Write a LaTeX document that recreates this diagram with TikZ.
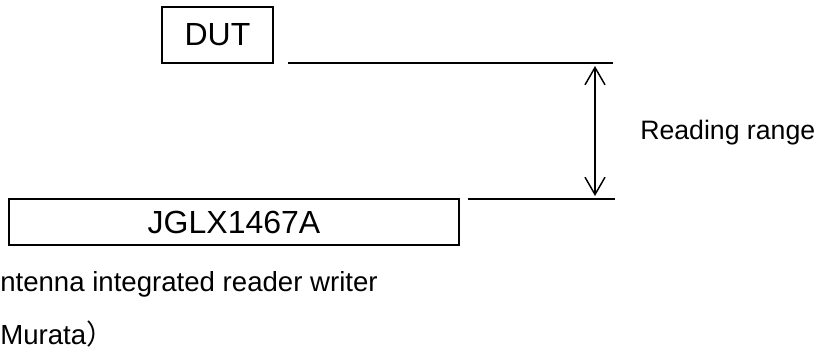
\documentclass[tikz,border=0pt]{standalone}
\usepackage{fontspec}
\setmainfont{Liberation Sans}
\newfontfamily\jpfont{Noto Sans CJK JP}
\usepackage{tikz}
\usetikzlibrary{arrows.meta}
\tikzset{>/.tip={Straight Barb[length=13pt,width=15pt,line width=1.1pt]}}

\begin{document}
\begin{tikzpicture}[x=0.75pt,y=-0.75pt,
  box/.style={draw,line width=1.4pt,inner sep=0pt},
  lbl/.style={inner sep=0pt,anchor=base west}]
\useasboundingbox (0,0) rectangle (817,351);

\node[box,minimum width=83pt,minimum height=42pt] (DUT) at (217.5,35) {\fontsize{24}{28}\selectfont DUT};
\node[box,minimum width=337.5pt,minimum height=34.5pt] (JGLX) at (234,222) {\fontsize{24}{28}\selectfont JGLX1467A};

\coordinate (top-l) at (288,63);
\coordinate (top-r) at (613,63);
\coordinate (bot-l) at (468,199);
\coordinate (bot-r) at (615,199);
\coordinate (rng-t) at (595,66);
\coordinate (rng-b) at (595,196);

\draw[line width=1.4pt] (top-l) -- (top-r);
\draw[line width=1.4pt] (bot-l) -- (bot-r);
\draw[<->,line width=1.1pt] (rng-t) -- (rng-b);

\node[inner sep=0pt,anchor=west] (range) at (640,133) {\fontsize{20}{24}\selectfont Reading range};
\node[lbl] (rw) at (0,291) {\fontsize{20.7}{24}\selectfont ntenna integrated reader writer};
\node[lbl] (maker) at (0,344) {\fontsize{20.7}{24}\selectfont Murata{\jpfont ）}};
\end{tikzpicture}
\end{document}
